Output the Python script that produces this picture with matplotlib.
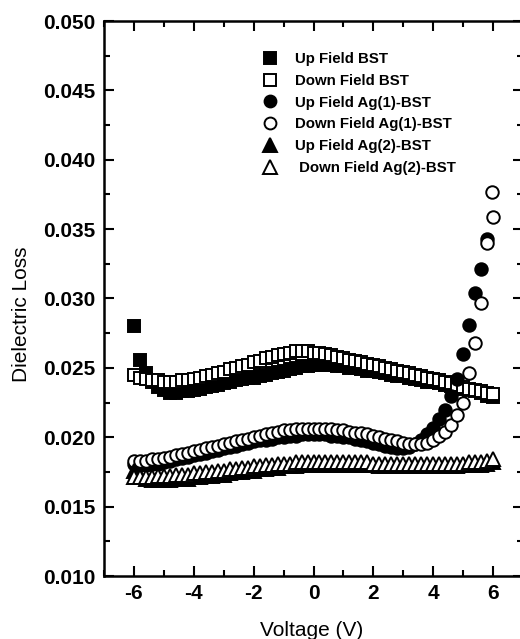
import numpy as np
import matplotlib
matplotlib.use("Agg")
import matplotlib.pyplot as plt
from matplotlib.ticker import MultipleLocator

plt.rcParams["font.family"] = ["Liberation Sans", "DejaVu Sans"]
plt.rcParams["axes.unicode_minus"] = False

# bias voltage grid (V)
volts = np.round(np.arange(-6.0, 6.01, 0.2), 1)

bst_up = [0.0280, 0.0256, 0.0246, 0.0240, 0.0236, 0.0234, 0.0232, 0.0232, 0.0233, 0.0233,
          0.0234, 0.0235, 0.0236, 0.0237, 0.0238, 0.0239, 0.0240, 0.0241, 0.0242, 0.0243,
          0.0243, 0.0244, 0.0245, 0.0246, 0.0247, 0.0248, 0.0249, 0.0250, 0.0251, 0.0251,
          0.0252, 0.0252, 0.0252, 0.0252, 0.0251, 0.0251, 0.0250, 0.0250, 0.0249, 0.0248,
          0.0248, 0.0247, 0.0246, 0.0245, 0.0244, 0.0244, 0.0243, 0.0242, 0.0241, 0.0240,
          0.0240, 0.0239, 0.0238, 0.0237, 0.0236, 0.0235, 0.0234, 0.0233, 0.0232, 0.0230,
          0.0229]
bst_down = [0.0245, 0.0243, 0.0242, 0.0241, 0.0241, 0.0240, 0.0240, 0.0240, 0.0241, 0.0241,
            0.0242, 0.0243, 0.0244, 0.0245, 0.0246, 0.0247, 0.0249, 0.0250, 0.0251, 0.0252,
            0.0254, 0.0255, 0.0257, 0.0258, 0.0259, 0.0260, 0.0261, 0.0262, 0.0262, 0.0262,
            0.0261, 0.0261, 0.0260, 0.0259, 0.0258, 0.0257, 0.0256, 0.0255, 0.0254, 0.0253,
            0.0252, 0.0251, 0.0250, 0.0249, 0.0248, 0.0247, 0.0246, 0.0245, 0.0244, 0.0243,
            0.0242, 0.0241, 0.0240, 0.0239, 0.0238, 0.0236, 0.0235, 0.0234, 0.0233, 0.0232,
            0.0231]
ag1_up = [0.0181, 0.0180, 0.0180, 0.0181, 0.0181, 0.0182, 0.0183, 0.0184, 0.0185, 0.0186,
          0.0187, 0.0188, 0.0189, 0.0190, 0.0191, 0.0192, 0.0193, 0.0194, 0.0195, 0.0196,
          0.0197, 0.0198, 0.0198, 0.0199, 0.0200, 0.0200, 0.0201, 0.0201, 0.0202, 0.0202,
          0.0202, 0.0202, 0.0202, 0.0201, 0.0201, 0.0200, 0.0200, 0.0199, 0.0198, 0.0197,
          0.0196, 0.0195, 0.0194, 0.0193, 0.0192, 0.0192, 0.0193, 0.0195, 0.0198, 0.0202,
          0.0207, 0.0213, 0.0220, 0.0230, 0.0242, 0.0260, 0.0281, 0.0304, 0.0321, 0.0343,
          np.nan]
ag1_down = [0.0183, 0.0183, 0.0183, 0.0184, 0.0184, 0.0185, 0.0186, 0.0187, 0.0188, 0.0189,
            0.0190, 0.0191, 0.0192, 0.0193, 0.0194, 0.0195, 0.0196, 0.0197, 0.0198, 0.0199,
            0.0200, 0.0201, 0.0202, 0.0203, 0.0204, 0.0205, 0.0205, 0.0206, 0.0206, 0.0206,
            0.0206, 0.0206, 0.0206, 0.0206, 0.0205, 0.0205, 0.0204, 0.0203, 0.0203, 0.0202,
            0.0201, 0.0200, 0.0199, 0.0198, 0.0197, 0.0196, 0.0195, 0.0195, 0.0195, 0.0196,
            0.0198, 0.0201, 0.0204, 0.0209, 0.0216, 0.0225, 0.0246, 0.0268, 0.0297, 0.0340,
            0.0359]
# first point of the down sweep, just below +6 V
ag1_down_start_v = [5.95]
ag1_down_start = [0.0377]
ag2_up = [0.0176, 0.0172, 0.0170, 0.0169, 0.0169, 0.0169, 0.0169, 0.0170, 0.0170, 0.0170,
          0.0171, 0.0171, 0.0172, 0.0172, 0.0173, 0.0173, 0.0174, 0.0175, 0.0175, 0.0176,
          0.0176, 0.0177, 0.0177, 0.0178, 0.0178, 0.0179, 0.0179, 0.0179, 0.0180, 0.0180,
          0.0180, 0.0180, 0.0180, 0.0180, 0.0180, 0.0180, 0.0180, 0.0180, 0.0180, 0.0180,
          0.0180, 0.0179, 0.0179, 0.0179, 0.0179, 0.0179, 0.0179, 0.0179, 0.0179, 0.0179,
          0.0179, 0.0179, 0.0179, 0.0179, 0.0179, 0.0180, 0.0180, 0.0180, 0.0180, 0.0181,
          0.0182]
ag2_down = [0.0171, 0.0171, 0.0171, 0.0171, 0.0172, 0.0172, 0.0172, 0.0173, 0.0173, 0.0173,
            0.0174, 0.0174, 0.0175, 0.0175, 0.0176, 0.0176, 0.0177, 0.0177, 0.0178, 0.0178,
            0.0179, 0.0179, 0.0180, 0.0180, 0.0181, 0.0181, 0.0181, 0.0182, 0.0182, 0.0182,
            0.0182, 0.0182, 0.0182, 0.0182, 0.0182, 0.0182, 0.0182, 0.0182, 0.0182, 0.0182,
            0.0181, 0.0181, 0.0181, 0.0181, 0.0181, 0.0181, 0.0181, 0.0181, 0.0181, 0.0181,
            0.0181, 0.0181, 0.0181, 0.0181, 0.0181, 0.0181, 0.0182, 0.0182, 0.0182, 0.0183,
            0.0184]

labels = ["Up Field BST", "Down Field BST", "Up Field Ag(1)-BST",
          "Down Field Ag(1)-BST", "Up Field Ag(2)-BST", " Down Field Ag(2)-BST"]

fig = plt.figure(figsize=(5.2, 6.39), dpi=100)
ax = fig.add_axes([104 / 520, 1 - 576 / 639, 419 / 520, 555 / 639])

ms = 9
mew = 1.4
ax.plot(volts, bst_up, ls="none", marker="s", ms=ms, mfc="black", mec="black", mew=mew, label=labels[0])
ax.plot(volts, bst_down, ls="none", marker="s", ms=ms, mfc="white", mec="black", mew=mew, label=labels[1])
ax.plot(volts, ag1_up, ls="none", marker="o", ms=ms, mfc="black", mec="black", mew=mew, label=labels[2])
ax.plot(volts, ag1_down, ls="none", marker="o", ms=ms, mfc="white", mec="black", mew=mew, label=labels[3])
ax.plot(ag1_down_start_v, ag1_down_start, ls="none", marker="o", ms=ms, mfc="white", mec="black", mew=mew)
ax.plot(volts, ag2_up, ls="none", marker="^", ms=ms + 1, mfc="black", mec="black", mew=mew, label=labels[4])
ax.plot(volts, ag2_down, ls="none", marker="^", ms=ms + 1, mfc="white", mec="black", mew=mew, label=labels[5])

ax.set_xlim(-7, 7)
ax.set_ylim(0.010, 0.050)
ax.xaxis.set_major_locator(MultipleLocator(2))
ax.xaxis.set_minor_locator(MultipleLocator(1))
ax.yaxis.set_major_locator(MultipleLocator(0.005))
ax.yaxis.set_minor_locator(MultipleLocator(0.0025))
ax.set_xticks([-6, -4, -2, 0, 2, 4, 6])
ax.set_yticklabels([f"{t:.3f}" for t in ax.get_yticks()])

ax.tick_params(which="both", direction="in", top=True, right=True, width=1.5)
ax.tick_params(which="major", length=7, pad=6, labelsize=15)
ax.tick_params(which="minor", length=4)
for lab in ax.get_xticklabels() + ax.get_yticklabels():
    lab.set_fontweight("bold")
for sp in ax.spines.values():
    sp.set_linewidth(1.8)

ax.set_xlabel("Voltage (V)", fontsize=15)
ax.set_ylabel("Dielectric Loss", fontsize=15)
ax.xaxis.set_label_coords(0.495, -0.081)
ax.yaxis.set_label_coords(-0.175, 0.472)

ax.legend(loc="upper left", bbox_to_anchor=(0.378, 0.944), frameon=False,
          prop={"weight": "bold", "size": 10.8}, handlelength=1.0,
          handletextpad=1.2, labelspacing=0.52, borderpad=0, borderaxespad=0,
          markerscale=0.95)

fig.savefig("out.png", dpi=100)
